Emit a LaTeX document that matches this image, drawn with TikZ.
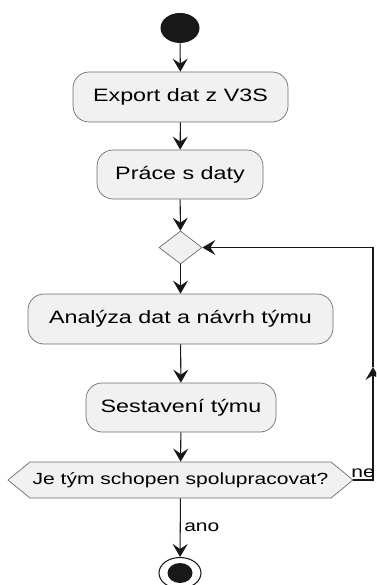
\documentclass[tikz,border=0pt]{standalone}
\usepackage{fontspec}
\setsansfont[FakeStretch=1.3]{Liberation Sans}
\usepackage{xcolor}
\usepackage{tikz}
\usetikzlibrary{arrows.meta,shapes.geometric}

\definecolor{actfill}{HTML}{F1F1F1}
\definecolor{actline}{HTML}{6E6E6E}
\definecolor{flowline}{HTML}{181818}

\tikzset{
  activity/.style={draw=actline, fill=actfill, rounded corners=0.32cm, minimum height=1cm, inner sep=0pt},
  flow/.style={draw=flowline, line width=0.6pt, -{Stealth[length=0.26cm,width=0.3cm,inset=0.1cm]}},
  flowlabel/.style={font=\sffamily\fontsize{9.2}{11}\selectfont, inner sep=2pt},
}

\begin{document}
\begin{tikzpicture}[every node/.style={font=\sffamily\fontsize{10.2}{12}\selectfont}]
        \clip (0,0) rectangle (7.52,-11.7);
        \node[ellipse, fill=flowline, minimum width=0.78cm, minimum height=0.6cm, inner sep=0pt] (start) at (3.6,-0.56) {};
        \node[activity, minimum width=4.3cm] (export) at (3.61,-1.94) {Export dat z V3S};
        \node[activity, minimum width=3.32cm, minimum height=0.98cm] (work) at (3.6,-3.49) {Práce s daty};
        \node[diamond, draw=actline, fill=actfill, minimum width=0.86cm, minimum height=0.66cm, inner sep=0pt] (merge) at (3.61,-4.95) {};
        \node[activity, minimum width=6.1cm] (analysis) at (3.61,-6.38) {Analýza dat a návrh týmu};
        \node[activity, minimum width=3.8cm, minimum height=0.98cm] (team) at (3.62,-8.15) {Sestavení týmu};
        % decision hexagon
        \filldraw[draw=actline, fill=actfill] (0.16,-9.6) -- (0.6,-9.24) -- (6.62,-9.24) -- (7.06,-9.6) -- (6.62,-9.96) -- (0.6,-9.96) -- cycle;
        \node[flowlabel, minimum width=6.9cm, minimum height=0.72cm, inner sep=0pt] (check) at (3.61,-9.6) {Je tým schopen spolupracovat?};
        \node[ellipse, draw=flowline, line width=0.6pt, minimum width=0.84cm, minimum height=0.62cm, inner sep=0pt] (stop) at (3.6,-11.46) {};
        \node[ellipse, fill=flowline, minimum width=0.5cm, minimum height=0.4cm, inner sep=0pt] (stopdot) at (stop) {};

        \draw[flow] (start) -- (export);
        \draw[flow] (export) -- (work);
        \draw[flow] (work) -- (merge);
        \draw[flow] (merge) -- (analysis);
        \draw[flow] (analysis) -- (team);
        \draw[flow] (team) -- (check);
        \draw[flow] (check) -- node[flowlabel, right] {ano} (stop);

        % back to the merge point
        \coordinate (loop) at (7.46,-9.6);
        \coordinate (loopup) at (7.46,-7.34);
        \draw[flow] (check.east) -- node[flowlabel, above, inner sep=1pt] {ne} (loop) -- (loopup);
        \draw[flow] (loopup) |- (merge.east);
    \end{tikzpicture}
\end{document}
